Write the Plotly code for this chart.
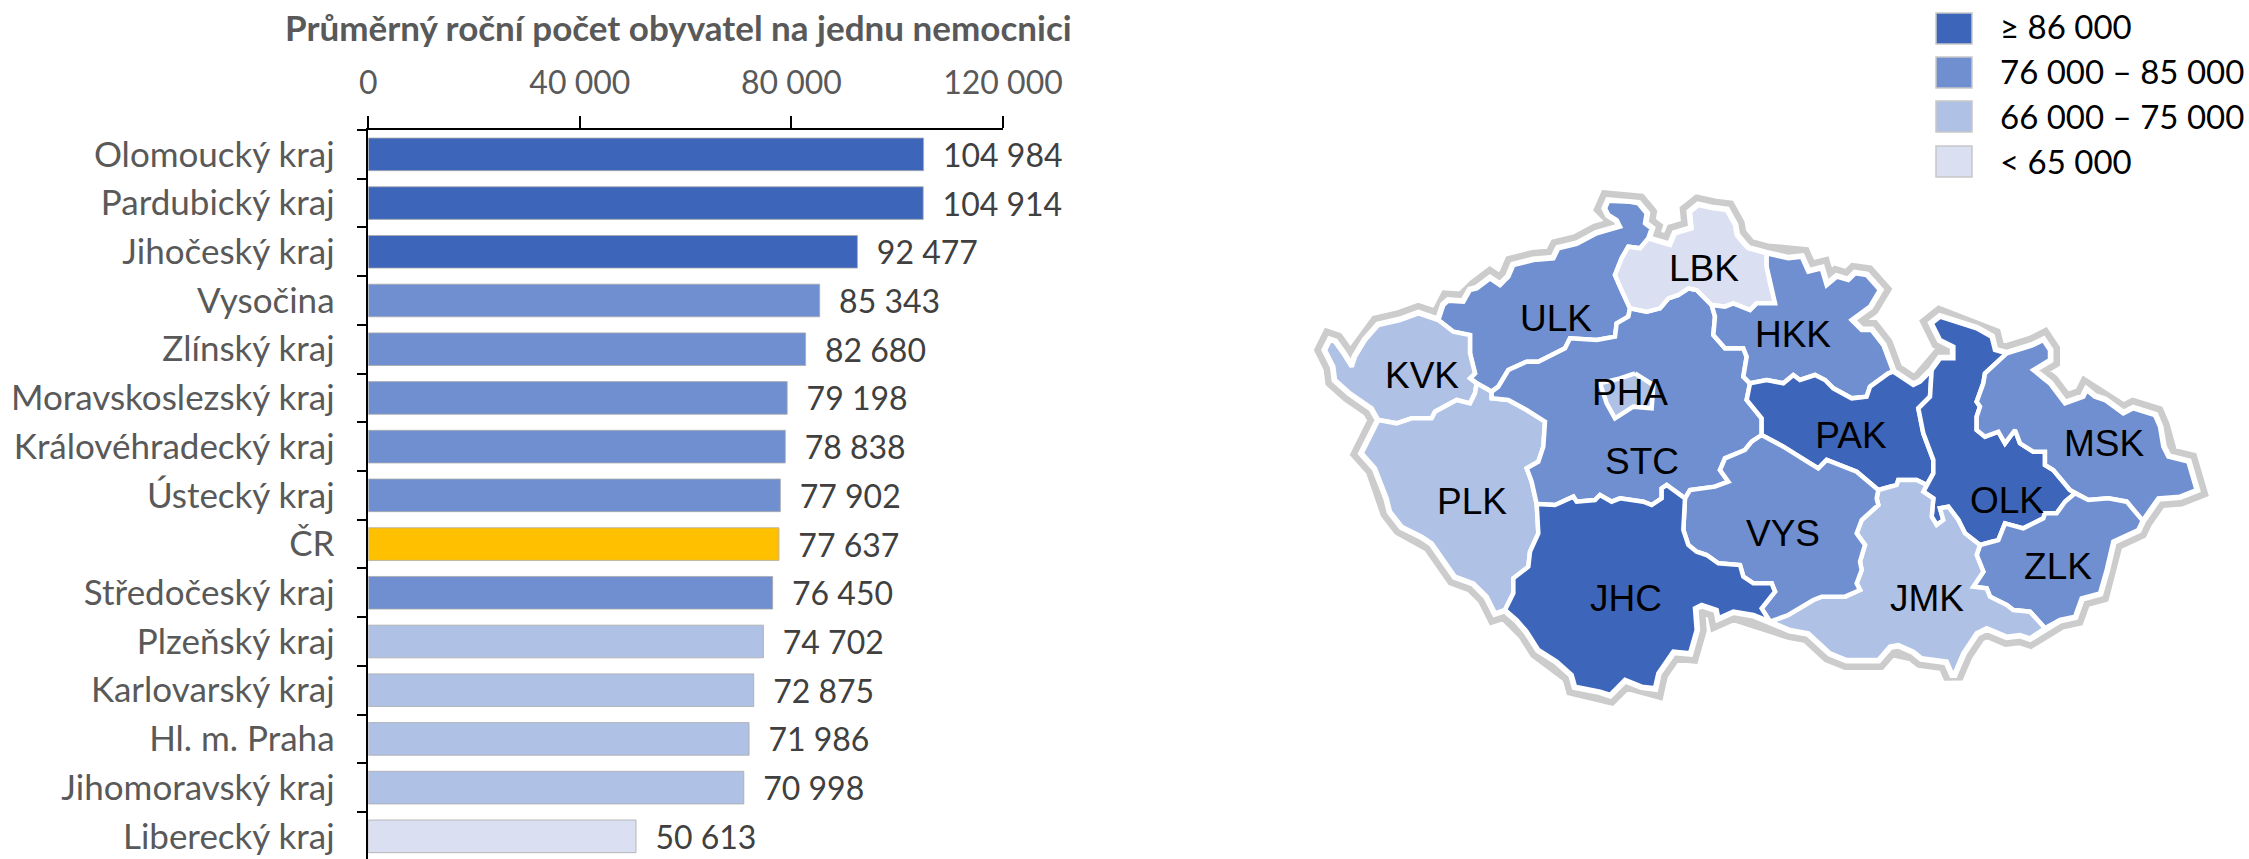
import plotly.graph_objects as go

# ---------- chart data ----------
CHART_TITLE = "Průměrný roční počet obyvatel na jednu nemocnici"
categories = ["Olomoucký kraj", "Pardubický kraj", "Jihočeský kraj", "Vysočina", "Zlínský kraj",
              "Moravskoslezský kraj", "Královéhradecký kraj", "Ústecký kraj", "ČR", "Středočeský kraj",
              "Plzeňský kraj", "Karlovarský kraj", "Hl. m. Praha", "Jihomoravský kraj", "Liberecký kraj"]
values = [104984, 104914, 92477, 85343, 82680, 79198, 78838, 77902, 77637, 76450,
          74702, 72875, 71986, 70998, 50613]
x_ticks = [0, 40000, 80000, 120000]
x_tick_labels = ["0", "40 000", "80 000", "120 000"]

C1, C2, C3, C4, GOLD = "#3D66BB", "#6F8FD0", "#AFC1E5", "#DADFF1", "#FFC000"
bar_colors = [C1, C1, C1, C2, C2, C2, C2, C2, GOLD, C2, C3, C3, C3, C3, C4]
legend_labels = ["≥ 86 000", "76 000 – 85 000", "66 000 – 75 000", "< 65 000"]
legend_colors = [C1, C2, C3, C4]

# ---------- map geometry: shared boundary arcs, (frame, points) ----------
ORIGIN = {"nw": (1300, 170), "ne": (1750, 170), "sw": (1300, 430), "se": (1750, 430)}

kvk_outer = ("nw", [(235,750),(215,715),(150,670),(105,630),(100,590),(75,540),(90,510),(105,515),(130,550),(155,590),(165,560),(195,510),(235,465),(300,450),(355,430),(415,450)])
ulk_north = ("nw", [(415,450),(430,405),(445,392),(490,395),(510,360),(530,355),(570,325),(600,345),(625,320),(640,285),(700,270),(760,265),(775,235),(830,222),(890,190),(960,170),(950,150),(925,135),(915,115),(925,92),(990,95),(1015,100),(1040,130),(1035,160),(1055,175),(1045,205)])
ulk_lbk = ("nw", [(1045,205),(1020,235),(985,230),(965,265),(945,315),(960,350),(990,415)])
ulk_stc = ("nw", [(990,415),(985,440),(950,460),(945,500),(890,510),(810,505),(795,535),(745,560),(715,575),(680,575),(625,600),(595,650),(575,665)])
kvk_ulk = ("nw", [(415,450),(460,485),(510,495),(510,550),(525,610),(510,625),(530,640)])
ulk_plk = ("nw", [(530,640),(575,665)])
kvk_plk = ("nw", [(530,640),(525,670),(510,700),(470,690),(405,725),(395,745),(335,745),(290,760),(235,750)])
stc_plk = ("sw", [(575,-115),(575,-95),(625,-90),(680,-60),(735,-25),(730,50),(715,95),(680,115),(695,155),(710,222)])
jhc_plk = ("sw", [(710,222),(715,310),(690,365),(685,410),(640,445),(640,490),(615,540)])
plk_outer = ("sw", [(235,-30),(205,30),(185,70),(225,115),(260,205),(270,245),(305,290),(365,320),(395,340),(465,440),(520,460),(560,500),(585,550),(615,540)])
jhc_outer = ("sw", [(615,540),(650,570),(680,605),(715,660),(770,695),(815,735),(825,770),(900,785),(930,795),(975,750),(1025,770),(1065,775),(1075,730),(1110,680),(1120,665),(1170,670),(1190,600),(1185,535),(1205,525),(1250,540),(1255,565),(1300,545),(1360,555),(1410,575)])
jhc_stc = ("sw", [(710,222),(765,225),(820,200),(830,215),(885,210),(900,195),(935,215),(960,205),(1030,215),(1055,225),(1085,205),(1085,175),(1100,165),(1155,205)])
jhc_vys = ("sw", [(1155,205),(1150,300),(1165,345),(1190,365),(1220,375),(1255,400),(1320,405),(1330,440),(1360,460),(1415,460),(1425,485),(1385,535),(1410,575)])
stc_vys = ("sw", [(1155,205),(1170,180),(1245,170),(1285,155),(1260,120),(1275,85),(1335,60),(1355,35),(1385,15)])
stc_pak = ("nw", [(1350,640),(1340,690),(1385,745),(1385,795)])
stc_hkk = ("nw", [(1235,405),(1245,440),(1240,495),(1275,535),(1330,535),(1340,560),(1330,620),(1350,640)])
lbk_stc = ("nw", [(990,415),(1040,425),(1080,415),(1105,385),(1135,375),(1165,355),(1190,360),(1235,405)])
lbk_outer = ("nw", [(1045,205),(1060,210),(1110,225),(1125,190),(1175,175),(1170,125),(1195,105),(1240,115),(1280,120),(1305,165),(1310,195),(1335,225),(1345,235),(1400,250)])
lbk_hkk = ("nw", [(1400,250),(1400,290),(1410,340),(1425,400),(1370,400),(1350,420),(1300,400),(1275,410),(1235,405)])
hkk_outer = ("ne", [(50,250),(115,265),(155,260),(175,305),(215,295),(230,345),(260,320),(295,330),(315,310),(350,315),(390,360),(360,410),(305,450),(335,480),(365,480),(400,525),(430,605)])
hkk_pak = ("ne", [(0,640),(50,630),(100,640),(130,615),(150,630),(195,615),(225,630),(250,655),(305,685),(350,680),(360,650),(415,610),(430,605)])
pak_outer = ("ne", [(430,605),(460,625),(490,645),(510,635),(545,600)])
pak_olk = ("ne", [(545,600),(540,680),(505,715),(520,790),(550,870),(550,910),(530,945)])
pak_vys = ("se", [(35,15),(100,50),(180,100),(205,115),(230,90),(320,125),(385,180)])
pak_jmk = ("se", [(530,165),(500,150),(445,150),(440,165),(385,180)])
vys_jmk = ("se", [(385,180),(380,205),(385,225),(335,270),(320,310),(345,345),(330,395),(335,420),(320,460),(330,480),(285,500),(215,500),(190,510),(115,555),(60,575)])
jmk_olk = ("se", [(530,165),(520,185),(550,205),(545,260),(560,285),(580,270),(570,235),(595,230),(625,270),(645,310),(690,345)])
jmk_zlk = ("se", [(690,345),(680,375),(700,425),(670,470),(710,475),(720,500),(770,525),(790,540),(840,545),(885,595)])
jmk_outer = ("se", [(60,575),(120,600),(175,610),(240,670),(290,690),(385,690),(420,650),(445,645),(490,665),(515,685),(590,695),(610,740),(640,670),(680,610),(710,595),(770,620),(810,615),(840,625),(885,595)])
zlk_outer = ("se", [(885,595),(930,570),(975,560),(995,505),(1050,490),(1070,420),(1090,335),(1165,300),(1178,272)])
zlk_msk = ("se", [(1178,272),(1130,215),(1075,205),(1015,210),(975,190)])
olk_zlk = ("se", [(975,190),(945,215),(920,250),(885,250),(880,265),(820,295),(765,280),(745,330),(690,345)])
olk_msk = ("ne", [(770,550),(705,610),(700,640),(680,695),(690,710),(680,740),(680,780),(705,800),(745,785),(765,820),(795,780),(810,820),(850,845),(885,845),(885,885),(910,900),(960,960),(975,970)])
olk_outer = ("ne", [(545,600),(570,565),(610,565),(610,530),(570,510),(545,460),(570,440),(680,475),(725,500),(735,540),(770,550)])
msk_outer = ("ne", [(770,550),(850,525),(880,510),(900,540),(900,570),(850,600),(880,625),(900,640),(945,700),(1000,680),(1010,660),(1035,680),(1065,690),(1120,730),(1150,715),(1215,735),(1230,770),(1240,830),(1255,860),(1315,875),(1340,960),(1290,980),(1225,985),(1178,1052)])
pha_outline = ("nw", [(1005,610),(1060,645),(1055,715),(1000,710),(945,745),(920,700),(900,640),(960,625),(1005,610)])


def pts(arc, rev=False):
    ox, oy = ORIGIN[arc[0]]
    out = [(ox + x / 3, oy + y / 3) for x, y in arc[1]]
    return out[::-1] if rev else out


def R(arc):
    return {"arc": arc}


def ring(*parts):
    out = []
    for p in parts:
        out += pts(p["arc"], True) if isinstance(p, dict) else pts(p)
    out.append(out[0])
    return out


region_rings = {
    "ULK": ring(ulk_north, ulk_lbk, ulk_stc, R(ulk_plk), R(kvk_ulk)),
    "KVK": ring(kvk_outer, kvk_ulk, kvk_plk),
    "PLK": ring(plk_outer, R(jhc_plk), R(stc_plk), R(ulk_plk), kvk_plk),
    "STC": ring(R(ulk_stc), lbk_stc, stc_hkk, stc_pak, R(stc_vys), R(jhc_stc), R(stc_plk)),
    "LBK": ring(lbk_outer, lbk_hkk, R(lbk_stc), R(ulk_lbk)),
    "HKK": ring(hkk_outer, R(hkk_pak), R(stc_hkk), R(lbk_hkk)),
    "PAK": ring(pak_outer, pak_olk, pak_jmk, R(pak_vys), R(stc_pak), hkk_pak),
    "OLK": ring(olk_outer, olk_msk, olk_zlk, R(jmk_olk), R(pak_olk)),
    "MSK": ring(msk_outer, zlk_msk, R(olk_msk)),
    "ZLK": ring(zlk_outer, zlk_msk, olk_zlk, jmk_zlk),
    "JMK": ring(R(vys_jmk), R(pak_jmk), jmk_olk, jmk_zlk, R(jmk_outer)),
    "VYS": ring(stc_vys, pak_vys, vys_jmk, R(jhc_vys)),
    "JHC": ring(jhc_outer, R(jhc_vys), R(jhc_stc), jhc_plk),
    "PHA": ring(pha_outline),
}
country = ring(kvk_outer, ulk_north, lbk_outer, hkk_outer, pak_outer, olk_outer, msk_outer,
               R(zlk_outer), R(jmk_outer), R(jhc_outer), R(plk_outer))
region_colors = {"ULK": C2, "KVK": C3, "PLK": C3, "STC": C2, "LBK": C4, "HKK": C2, "PAK": C1, "OLK": C1,
                 "MSK": C2, "ZLK": C2, "JMK": C3, "VYS": C2, "JHC": C1, "PHA": C3}
label_names = ["KVK", "ULK", "LBK", "PHA", "HKK", "PAK", "STC", "PLK", "JHC", "VYS", "JMK", "ZLK", "OLK", "MSK"]
label_x = [1422, 1556, 1704, 1630, 1793, 1851, 1642, 1472, 1626, 1783, 1927, 2058, 2007, 2104]
label_y = [379, 322, 272, 396, 338, 439, 465, 505, 602, 537, 602, 570, 504, 447]

W, H = 2249, 859
SANS = "Lato"
fig = go.Figure()

fig.add_trace(go.Bar(
    y=categories, x=values, orientation="h",
    marker=dict(color=bar_colors, line=dict(color="rgba(170,170,170,0.8)", width=1)),
    text=["\u00a0\u00a0" + f"{v:,}".replace(",", "\u00a0") for v in values],
    textposition="outside", cliponaxis=False, constraintext="none",
    textfont=dict(family=SANS, size=32, color="#404040"),
    hoverinfo="skip", width=0.67,
))

# outer grey band, then a white halo, then the regions
fig.add_trace(go.Scatter(
    x=[p[0] for p in country], y=[p[1] for p in country], xaxis="x2", yaxis="y2", mode="lines",
    fill="toself", fillcolor="#CCCCCC", line=dict(color="#CCCCCC", width=20), hoverinfo="skip", showlegend=False,
))
fig.add_trace(go.Scatter(
    x=[p[0] for p in country], y=[p[1] for p in country], xaxis="x2", yaxis="y2", mode="lines",
    fill="toself", fillcolor="white", line=dict(color="white", width=7), hoverinfo="skip", showlegend=False,
))
for name, r in region_rings.items():
    fig.add_trace(go.Scatter(
        x=[p[0] for p in r], y=[p[1] for p in r], xaxis="x2", yaxis="y2", mode="lines",
        fill="toself", fillcolor=region_colors[name], line=dict(color="white", width=4.5),
        hoverinfo="skip", showlegend=False,
    ))
fig.add_trace(go.Scatter(
    x=label_x, y=label_y, text=label_names, xaxis="x2", yaxis="y2", mode="text",
    textposition="middle center", textfont=dict(family="Liberation Sans", size=37, color="black"),
    hoverinfo="skip", showlegend=False,
))

shapes, annos = [], []
legend_top = [13, 57, 101, 146]
legend_text_y = [26, 71, 116, 161]
for top, ty, col, lab in zip(legend_top, legend_text_y, legend_colors, legend_labels):
    shapes.append(dict(type="rect", xref="x2", yref="y2", x0=1936, x1=1972, y0=top, y1=top + 31,
                       fillcolor=col, line=dict(color="#C8C8C8", width=1.5)))
    annos.append(dict(xref="x2", yref="y2", x=1998, y=ty, text=lab, showarrow=False, xanchor="left",
                      yanchor="middle", font=dict(family=SANS, size=33, color="black")))
annos.append(dict(xref="x2", yref="y2", x=678, y=27, text="<b>" + CHART_TITLE + "</b>", showarrow=False,
                  xanchor="center", yanchor="middle", font=dict(family=SANS, size=35, color="#595959")))

fig.update_layout(
    width=W, height=H, margin=dict(l=0, r=0, t=0, b=0), paper_bgcolor="white", plot_bgcolor="rgba(0,0,0,0)",
    showlegend=False, shapes=shapes, annotations=annos, bargap=0.33,
    xaxis=dict(domain=[368.3 / W, 1003 / W], range=[0, 120000], side="top", tickvals=x_ticks, ticktext=x_tick_labels,
               automargin=False, ticks="outside", ticklen=12, tickcolor="black", tickwidth=1.5, showgrid=False,
               zeroline=False, showline=True, linecolor="black", linewidth=1.5, anchor="y", ticklabelstandoff=9,
               tickfont=dict(family=SANS, size=32, color="#595959")),
    yaxis=dict(domain=[0, (H - 130) / H], range=[14.465, -0.5], type="category", tickson="boundaries",
               automargin=False, ticks="outside", ticklen=10, tickcolor="black", tickwidth=1.5, showgrid=False,
               zeroline=False, showline=True, linecolor="black", linewidth=1.5, anchor="x", ticklabelstandoff=25,
               categoryorder="array", categoryarray=categories,
               tickfont=dict(family=SANS, size=35, color="#595959")),
    xaxis2=dict(domain=[0, 1], range=[0, W], visible=False, anchor="y2", automargin=False),
    yaxis2=dict(domain=[0, 1], range=[H, 0], visible=False, anchor="x2", automargin=False),
)

fig.write_html("out.html", config=dict(displayModeBar=False),
               post_script="document.body.style.margin='0';document.body.style.overflow='hidden';")
